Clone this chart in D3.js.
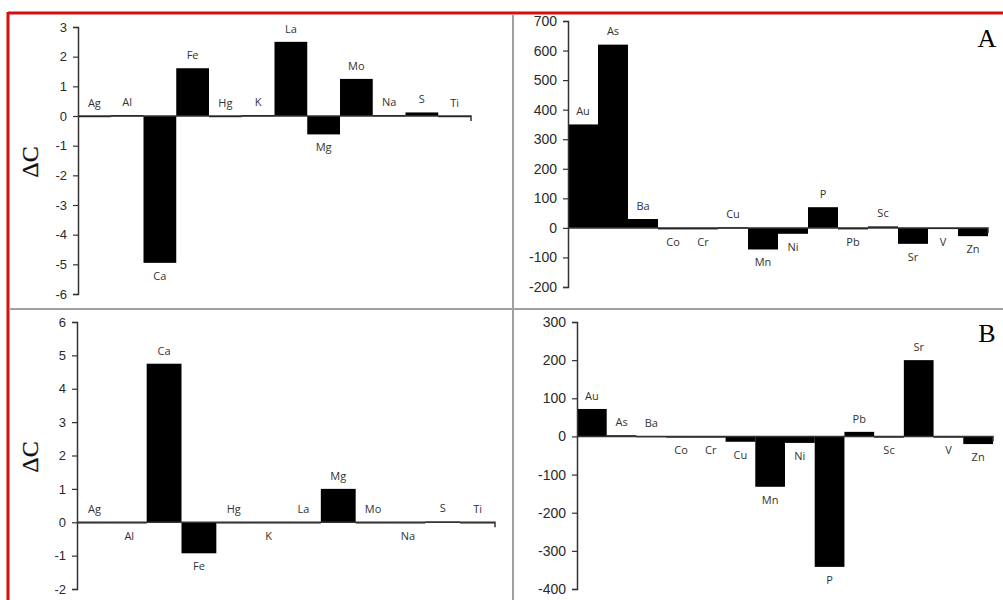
<!DOCTYPE html>
<html>
<head>
<meta charset="utf-8">
<script src="https://cdn.jsdelivr.net/npm/d3@7"></script>
<style>
  html, body { margin: 0; padding: 0; background: #fff; }
  svg { display: block; }
</style>
</head>
<body>
<svg id="chart" width="1003" height="600"></svg>
<script>
// ---- data ----
const elementsLeft = ["Ag","Al","Ca","Fe","Hg","K","La","Mg","Mo","Na","S","Ti"];
const elementsRight = ["Au","As","Ba","Co","Cr","Cu","Mn","Ni","P","Pb","Sc","Sr","V","Zn"];

const valuesTopLeft = [0, 0.03, -4.95, 1.61, 0, 0.03, 2.5, -0.62, 1.25, 0.03, 0.12, 0];
const valuesTopRight = [350, 620, 30, -5, -5, 2, -73, -20, 70, -5, 5, -54, -3, -28];
const valuesBottomLeft = [0, -0.03, 4.75, -0.93, 0, -0.03, 0, 1.0, 0, -0.03, 0.02, 0];
const valuesBottomRight = [72, 3, 1, -2, -2, -14, -132, -17, -342, 12, -3, 200, -3, -20];

const ticksTopLeft = [3, 2, 1, 0, -1, -2, -3, -4, -5, -6];
const ticksTopRight = [700, 600, 500, 400, 300, 200, 100, 0, -100, -200];
const ticksBottomLeft = [6, 5, 4, 3, 2, 1, 0, -1, -2];
const ticksBottomRight = [300, 200, 100, 0, -100, -200, -300, -400];

const axisTitle = "ΔC";
const panelLetters = ["A", "B"];

// ---- layout ----
const svg = d3.select("#chart");

const panels = [
  { cats: elementsLeft, vals: valuesTopLeft, ticks: ticksTopLeft, x0: 78, x1: 471, yTop: 27, yBot: 294, tickFont: 13, title: true, titleY: 162 },
  { cats: elementsRight, vals: valuesTopRight, ticks: ticksTopRight, x0: 568, x1: 988, yTop: 21, yBot: 287, tickFont: 14, letter: panelLetters[0], letterY: 47 },
  { cats: elementsLeft, vals: valuesBottomLeft, ticks: ticksBottomLeft, x0: 77, x1: 495, yTop: 322, yBot: 589, tickFont: 13, title: true, titleY: 457 },
  { cats: elementsRight, vals: valuesBottomRight, ticks: ticksBottomRight, x0: 577, x1: 993, yTop: 322, yBot: 589, tickFont: 14, letter: panelLetters[1], letterY: 342 }
];

// frame lines
svg.append("line").attr("x1", 8).attr("x2", 1003).attr("y1", 13).attr("y2", 13)
  .attr("stroke", "#d40f0f").attr("stroke-width", 3);
svg.append("line").attr("x1", 8).attr("x2", 8).attr("y1", 12).attr("y2", 600)
  .attr("stroke", "#d40f0f").attr("stroke-width", 3);
svg.append("line").attr("x1", 10).attr("x2", 1003).attr("y1", 309).attr("y2", 309)
  .attr("stroke", "#a0a0a0").attr("stroke-width", 2);
svg.append("line").attr("x1", 513).attr("x2", 513).attr("y1", 15).attr("y2", 600)
  .attr("stroke", "#a0a0a0").attr("stroke-width", 2);

const fmt = d => String(d); // plain hyphen-minus like the original

panels.forEach(p => {
  const g = svg.append("g");
  const x = d3.scaleBand().domain(p.cats).range([p.x0, p.x1]).padding(0);
  const yMax = d3.max(p.ticks), yMin = d3.min(p.ticks);
  const y = d3.scaleLinear().domain([yMin, yMax]).range([p.yBot, p.yTop]);
  const data = p.cats.map((c, i) => ({ c, v: p.vals[i] }));

  // bars
  g.selectAll("rect.bar").data(data).enter().append("rect")
    .attr("class", "bar")
    .attr("x", d => x(d.c))
    .attr("width", x.bandwidth())
    .attr("y", d => Math.min(y(d.v), y(0)))
    .attr("height", d => Math.max(Math.abs(y(d.v) - y(0)), 1.2))
    .attr("fill", "#000");

  // y axis
  const yAxis = d3.axisLeft(y).tickValues(p.ticks).tickSize(5).tickPadding(6).tickFormat(fmt);
  const ya = g.append("g").attr("transform", `translate(${p.x0},0)`).call(yAxis);
  ya.select(".domain").attr("stroke", "#333").attr("stroke-width", 1.5);
  ya.selectAll(".tick line").attr("stroke", "#333").attr("stroke-width", 1.2);
  ya.selectAll(".tick text").attr("fill", "#2a2a2a")
    .style("font-family", "'Liberation Sans', Arial, sans-serif")
    .style("font-size", p.tickFont + "px");

  // x axis (zero line) with end tick
  const xAxis = d3.axisBottom(x).tickValues([]).tickSizeOuter(5);
  const xa = g.append("g").attr("transform", `translate(0,${y(0)})`).call(xAxis);
  xa.select(".domain").attr("stroke", "#333").attr("stroke-width", 1.5)
    .attr("d", `M${p.x0},0H${p.x1}V5`);

  // element labels
  g.selectAll("text.lab").data(data).enter().append("text")
    .attr("class", "lab")
    .attr("x", d => x(d.c) + x.bandwidth() / 2)
    .attr("y", d => d.v >= 0 ? y(d.v) - 13 : y(d.v) + 13)
    .attr("dy", "0.35em")
    .attr("text-anchor", "middle")
    .attr("fill", "#333")
    .style("font-family", "'Open Sans', 'Liberation Sans', sans-serif")
    .style("font-size", "11px")
    .text(d => d.c);

  if (p.title) {
    g.append("text")
      .attr("transform", `translate(30,${p.titleY}) rotate(-90)`)
      .attr("text-anchor", "middle")
      .attr("dy", "0.35em")
      .attr("fill", "#111")
      .attr("stroke", "#111").attr("stroke-width", 0.25)
      .style("font-family", "'Liberation Serif', 'Times New Roman', serif")
      .style("font-size", "24px")
      .text(axisTitle);
  }
  if (p.letter) {
    g.append("text")
      .attr("x", 987).attr("y", p.letterY)
      .attr("text-anchor", "middle")
      .attr("fill", "#000")
      .style("font-family", "'Liberation Serif', 'Times New Roman', serif")
      .style("font-size", "26px")
      .text(p.letter);
  }
});
</script>
</body>
</html>
